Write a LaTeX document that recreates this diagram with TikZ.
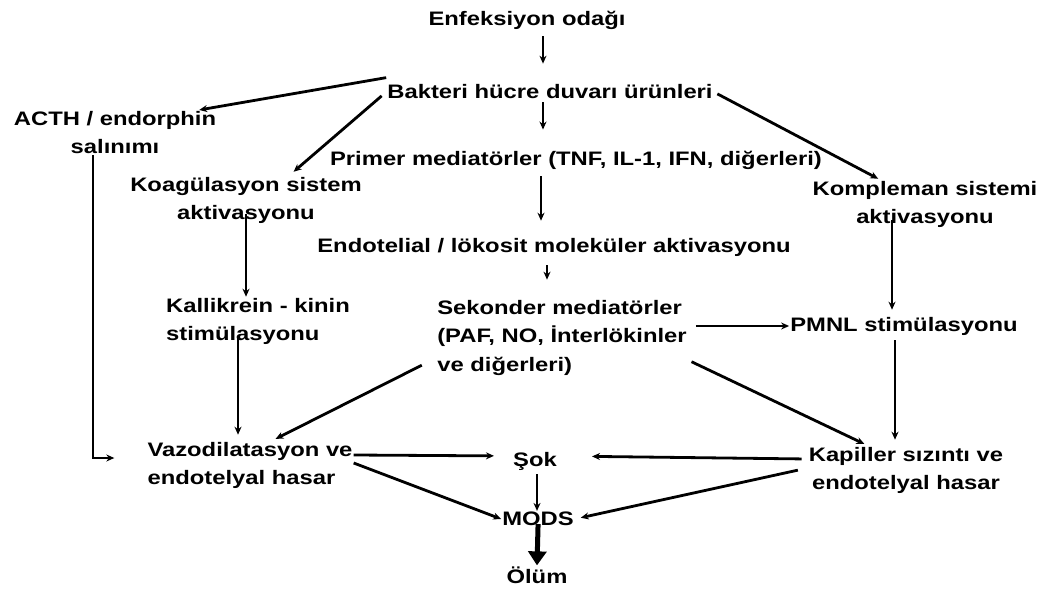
\documentclass[tikz,border=0pt]{standalone}
\usepackage{fontspec}
\setmainfont{Liberation Sans}[FakeStretch=1.22]
\usetikzlibrary{arrows.meta, positioning, calc}

\begin{document}
\begin{tikzpicture}[
  x=1pt, y=-1pt,
  >={Stealth[length=8pt, width=7pt]},
  txt/.style={font=\fontsize{19.5}{28}\selectfont\bfseries, align=center, inner sep=1pt},
  arr/.style={->, line width=2.8pt, black},
  bigarr/.style={-{Triangle[length=14pt, width=18pt]}, line width=5pt, black},
]

\useasboundingbox (0,0) rectangle (1051,593);

% Nodes
\node[txt] (enf) at (527,20) {Enfeksiyon odağı};
\node[txt] (bakteri) at (550,92) {Bakteri hücre duvarı ürünleri};
\node[txt] (acth) at (115,133) {ACTH / endorphin\\salınımı};
\node[txt] (primer) at (576,160) {Primer mediatörler (TNF, IL-1, IFN, diğerleri)};
\node[txt] (koag) at (246,200) {Koagülasyon sistem\\aktivasyonu};
\node[txt] (komp) at (925,204) {Kompleman sistemi\\aktivasyonu};
\node[txt] (endo) at (554,247) {Endotelial / lökosit moleküler aktivasyonu};
\node[txt, align=left] (kalli) at (258,321) {Kallikrein - kinin\\stimülasyonu};
\node[txt, align=left] (sekonder) at (562,338) {Sekonder mediatörler\\(PAF, NO, İnterlökinler\\ve diğerleri)};
\node[txt] (pmnl) at (904,326) {PMNL stimülasyonu};
\node[txt, align=left] (vazo) at (250,465) {Vazodilatasyon ve\\endotelyal hasar};
\node[txt] (sok) at (535,461) {Şok};
\node[txt] (kapiller) at (906,470) {Kapiller sızıntı ve\\endotelyal hasar};
\node[txt] (mods) at (538,519) {MODS};
\node[txt] (olum) at (537,575) {Ölüm};

% Main column
\draw[arr, shorten <=6pt, shorten >=20pt] ([xshift=16pt]enf.south) -- ([xshift=16pt]enf.south |- bakteri.north);
\draw[arr, shorten <=2pt, shorten >=20pt] ([xshift=-7pt]bakteri.south) -- ([xshift=-7pt]bakteri.south |- primer.north);
\draw[arr, shorten <=6pt, shorten >=16pt] ([xshift=-35pt]primer.south) -- ([xshift=-35pt]primer.south |- endo.north);
\draw[arr, shorten <=8pt, shorten >=20pt] ([xshift=-7pt]endo.south) -- ([xshift=-7pt]endo.south |- sekonder.north);

% Branches from bacterial products
\draw[arr, shorten >=4pt] ([yshift=6pt]bakteri.north west) -- ([xshift=-22pt]acth.north east);
\draw[arr, shorten <=6pt, shorten >=6pt] (bakteri.west) -- ([xshift=43pt]koag.north);
\draw[arr, shorten <=4pt, shorten >=2pt] (bakteri.east) -- ([xshift=-45pt]komp.north);

% Left side
\draw[arr, shorten >=32pt] ([xshift=-22pt]acth.south) |- ([yshift=7pt]vazo.west);
\draw[arr, shorten <=-10pt] (koag.south) -- (koag.south |- kalli.north);
\draw[arr, shorten <=-8pt, shorten >=6pt] ([xshift=-20pt]kalli.south) -- ([xshift=-20pt]kalli.south |- vazo.north);

% Right side
\draw[arr, shorten <=-8pt, shorten >=6pt] ([xshift=-33pt]komp.south) -- ([xshift=-33pt]komp.south |- pmnl.north);
\draw[arr, shorten <=4pt] ([xshift=4pt]sekonder.east |- pmnl.west) -- (pmnl.west);
\draw[arr, shorten <=4pt, shorten >=6pt] ([xshift=-9pt]pmnl.south) -- ([xshift=-9pt]pmnl.south |- kapiller.north);

% Secondary mediators to damage
\draw[arr, shorten <=16pt, shorten >=4pt] ([yshift=-20pt]sekonder.west) -- ([xshift=22pt]vazo.north);
\draw[arr, shorten <=4pt, shorten >=4pt] ([yshift=-22pt]sekonder.east) -- ([xshift=-38pt]kapiller.north);

% To shock and MODS
\draw[arr, shorten >=18pt] ([yshift=10pt]vazo.east) -- ([yshift=5pt]sok.west);
\draw[arr, shorten <=6pt, shorten >=34pt] ([yshift=11pt]kapiller.west) -- ([yshift=5pt]sok.east);
\draw[arr] ([yshift=2pt]vazo.east) -- (mods.west);
\draw[arr, shorten <=10pt, shorten >=6pt] ([yshift=2pt]kapiller.west) -- (mods.east);
\draw[arr, shorten <=3pt] ([xshift=2pt]sok.south) -- ([xshift=2pt]sok.south |- mods.north);
\draw[bigarr, shorten <=-3pt] (mods.south) -- (olum.north);

\end{tikzpicture}
\end{document}
